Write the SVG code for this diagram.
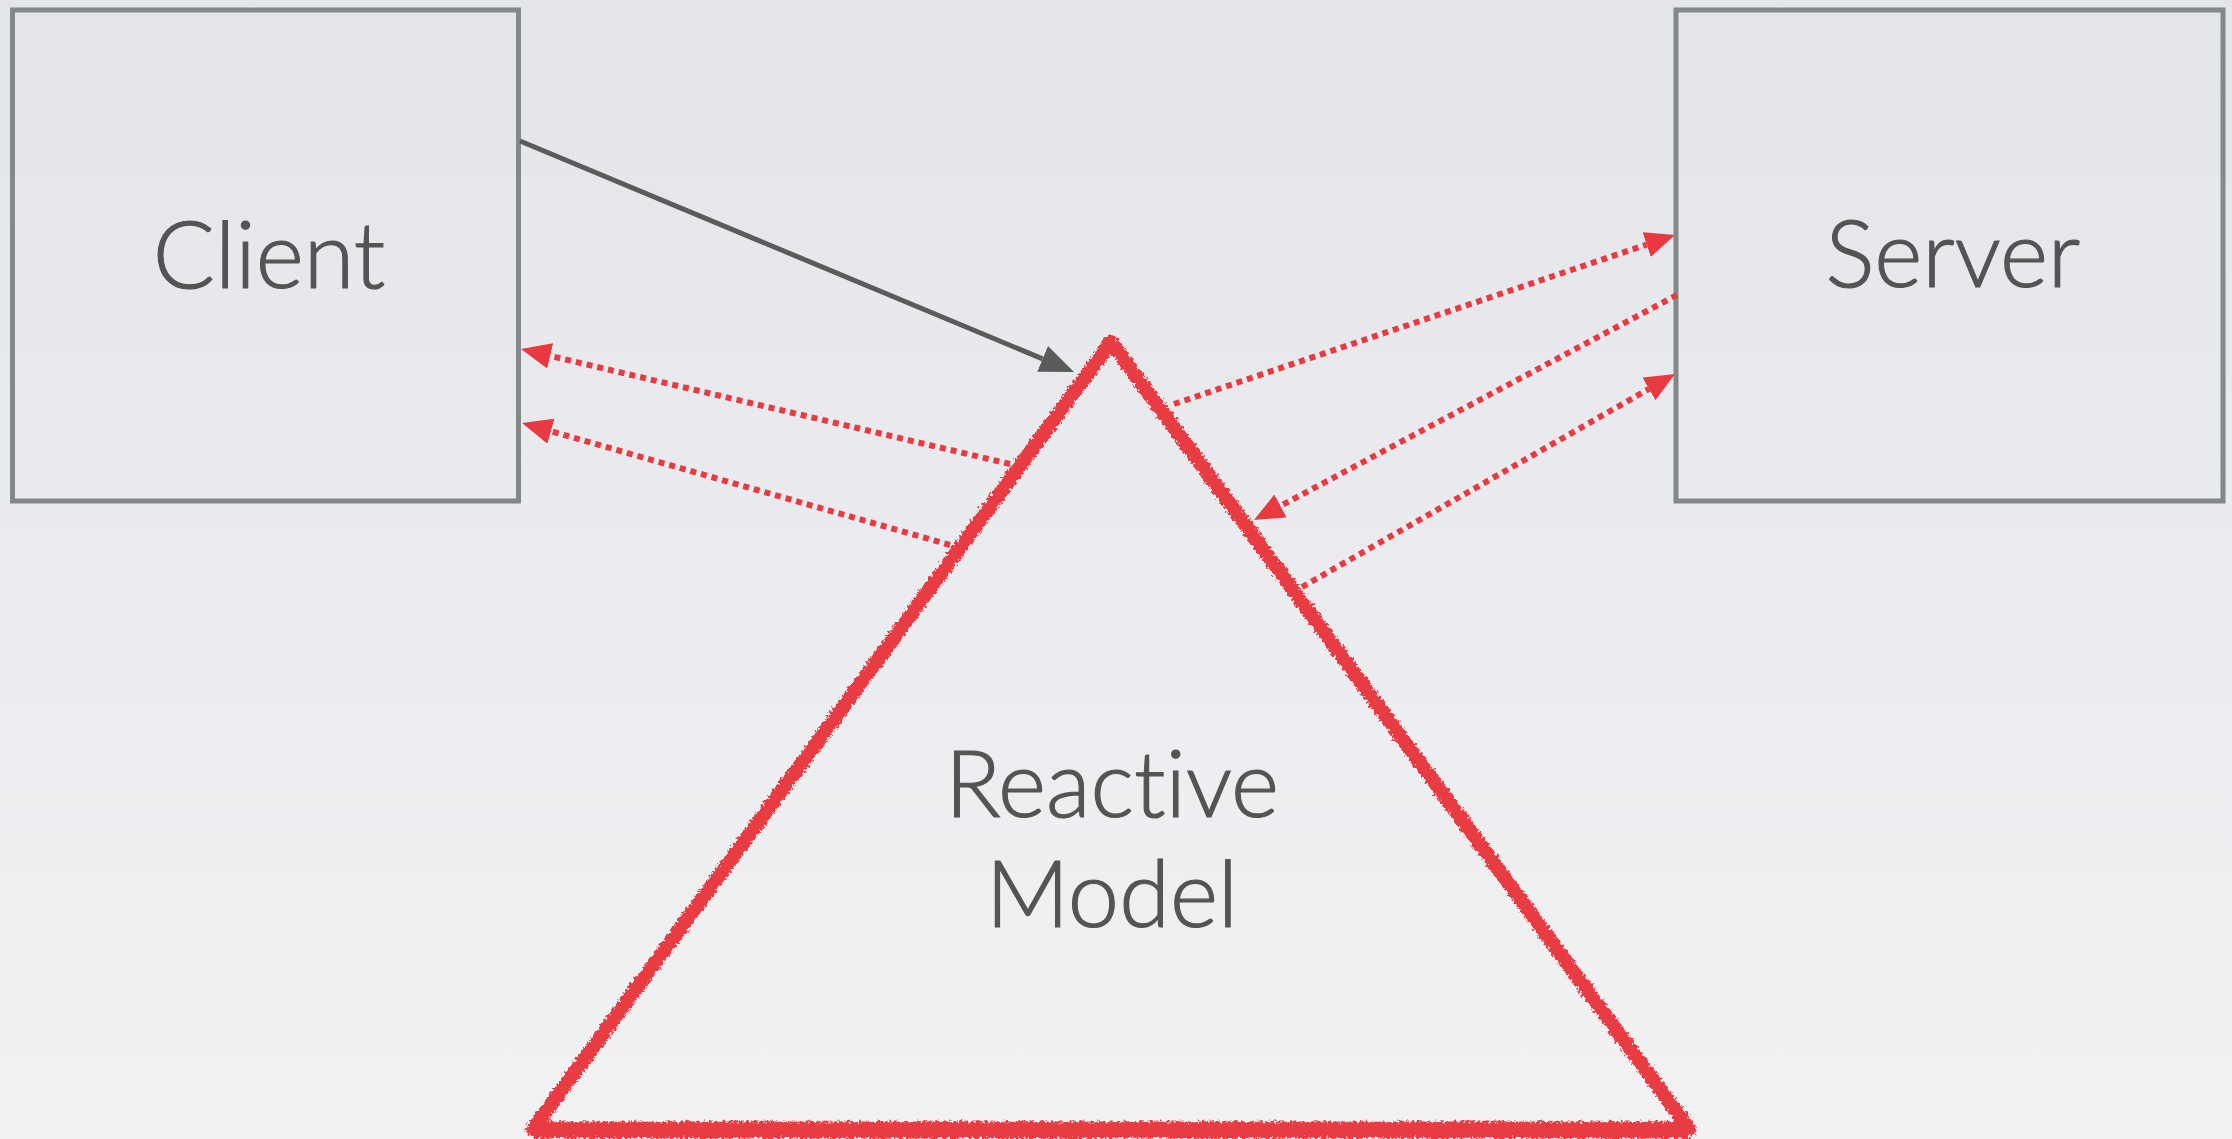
<svg xmlns="http://www.w3.org/2000/svg" width="2232" height="1139" viewBox="0 0 2232 1139">
<defs>
<linearGradient id="bg" x1="0" y1="0" x2="0" y2="1">
<stop offset="0" stop-color="#e3e5e9"/>
<stop offset="1" stop-color="#f2f2f4"/>
</linearGradient>
<marker id="headGray" viewBox="0 0 34 28" refX="0" refY="14" markerWidth="34" markerHeight="28" markerUnits="userSpaceOnUse" orient="auto">
<path d="M0,0 L34,14 L0,28 z" fill="#5a5c5c"/>
</marker>
<marker id="headRed" viewBox="0 0 30 26" refX="0" refY="13" markerWidth="30" markerHeight="26" markerUnits="userSpaceOnUse" orient="auto">
<path d="M0,0 L30,13 L0,26 z" fill="#e93a42"/>
</marker>
<filter id="chalk" x="-5%" y="-5%" width="110%" height="110%">
<feTurbulence type="fractalNoise" baseFrequency="0.35" numOctaves="3" seed="7" result="n"/>
<feDisplacementMap in="SourceGraphic" in2="n" scale="8" xChannelSelector="R" yChannelSelector="G"/>
</filter>
</defs>
<style>
.box{fill:none;stroke:#838888;stroke-width:5}
.label{font-family:Lato,"Open Sans","Liberation Sans",sans-serif;font-weight:300;font-size:92px;fill:#545454;stroke:#545454;stroke-width:1.2;text-anchor:middle;font-variant-ligatures:none}
.solid{stroke:#5a5c5c;stroke-width:5;fill:none;marker-end:url(#headGray)}
.dot{stroke:#e93a42;stroke-width:6;fill:none;stroke-dasharray:6 5;marker-end:url(#headRed)}
.tri{fill:none;stroke:#e93a42;stroke-width:14;stroke-linejoin:round}
</style>
<rect x="0" y="0" width="2232" height="1139" fill="url(#bg)"/>
<g id="client">
<rect class="box" x="12.5" y="10" width="506" height="491"/>
<text class="label" x="269" y="288">Client</text>
</g>
<g id="server">
<rect class="box" x="1676" y="10" width="547" height="491"/>
<text class="label" x="1953" y="287">Server</text>
</g>
<g id="reactive-model" filter="url(#chalk)">
<path class="tri" d="M1111,342 L1689,1129 L533,1129 Z"/>
<path class="tri" style="stroke-width:17" d="M533,1130 L1689,1130"/>
</g>
<g id="model-label">
<text class="label" x="1112" y="817">Reactive</text>
<text class="label" x="1112" y="927">Model</text>
</g>
<g id="connectors">
<line class="solid" x1="520" y1="141" x2="1042.6" y2="358.9"/>
<line class="dot" x1="1010" y1="464" x2="550.2" y2="355.9"/>
<line class="dot" x1="950" y1="545" x2="550.9" y2="431.2"/>
<line class="dot" x1="1174" y1="404" x2="1646.6" y2="244.6"/>
<line class="dot" x1="1677" y1="295" x2="1280.5" y2="505.9"/>
<line class="dot" x1="1302" y1="587" x2="1649" y2="388.9"/>
</g>
</svg>
